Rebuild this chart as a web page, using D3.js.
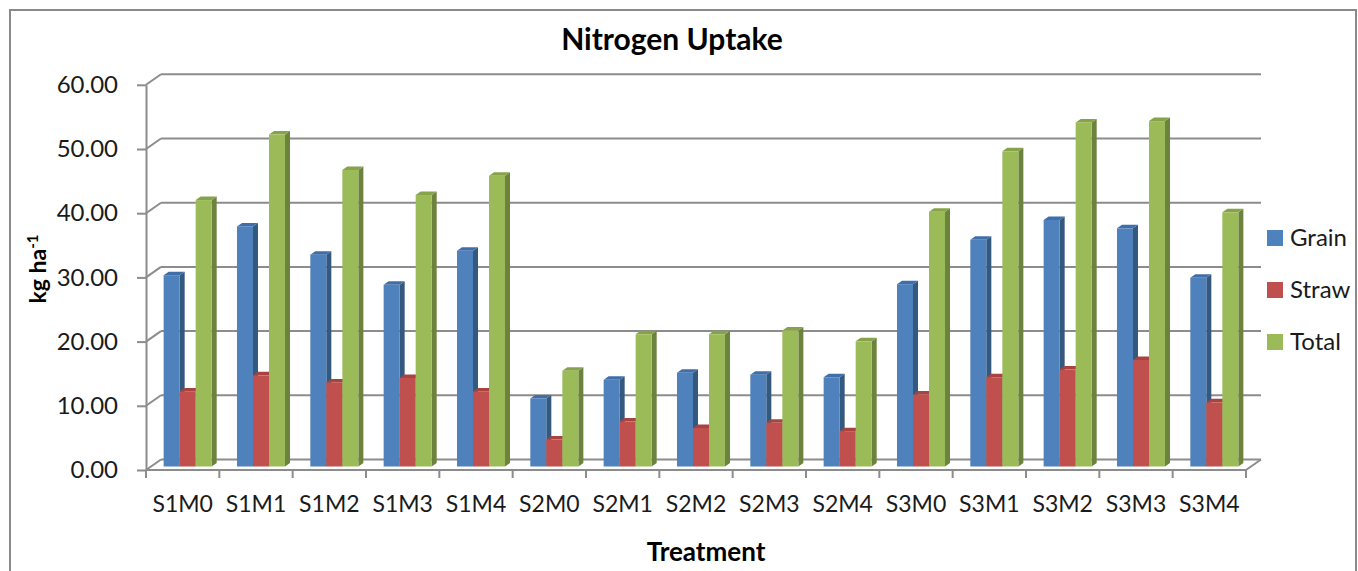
<!DOCTYPE html>
<html>
<head>
<meta charset="utf-8">
<script src="https://cdn.jsdelivr.net/npm/d3@7.9.0/dist/d3.min.js"></script>
<style>
  body { margin: 0; background: #fff; }
  svg { display: block; font-family: Lato, "Open Sans", sans-serif; }
</style>
</head>
<body>
<svg id="chart" width="1358" height="571"></svg>
<script>
// data
const categories = ['S1M0','S1M1','S1M2','S1M3','S1M4','S2M0','S2M1','S2M2','S2M3','S2M4','S3M0','S3M1','S3M2','S3M3','S3M4'];
const grain = [29.8, 37.4, 33.0, 28.3, 33.6, 10.6, 13.5, 14.6, 14.3, 13.9, 28.4, 35.3, 38.4, 37.1, 29.4];
const straw = [11.7, 14.2, 13.1, 13.8, 11.7, 4.2, 7.0, 6.0, 6.8, 5.5, 11.2, 13.9, 15.1, 16.6, 10.0];
const total = [41.5, 51.7, 46.2, 42.3, 45.3, 14.9, 20.6, 20.6, 21.2, 19.5, 39.7, 49.1, 53.6, 53.8, 39.6];
const seriesNames = ['Grain', 'Straw', 'Total'];
const yTicks = [0, 10, 20, 30, 40, 50, 60];

// colours: front, side, top
const colors = {
  Grain: ['#4f81bd', '#34597f', '#3f6ea8'],
  Straw: ['#c0504d', '#8c3835', '#a9433f'],
  Total: ['#9bbb59', '#6b833c', '#86a34a']
};

const svg = d3.select('#chart');

// outer frame
svg.append('rect')
  .attr('x', 10).attr('y', 10)
  .attr('width', 1346).attr('height', 600)
  .attr('fill', 'none')
  .attr('stroke', '#8a8a8a')
  .attr('stroke-width', 2);

// plot area (front plane) and depth offset for the 3D look
const left = 146, right = 1246, floorY = 470;
const depth = {dx: 15, dy: -10.5};

const x = d3.scaleBand().domain(categories).range([left, right]);
const xs = d3.scaleBand().domain(seriesNames).range([0, x.bandwidth()]).paddingOuter(0.79);
const y = d3.scaleLinear().domain([0, 60]).range([floorY, floorY - 6.42 * 60]);

const grid = svg.append('g');

// back wall gridlines + side wall diagonals
yTicks.forEach(t => {
  grid.append('line')
    .attr('x1', left + depth.dx).attr('x2', right + depth.dx)
    .attr('y1', y(t) + depth.dy).attr('y2', y(t) + depth.dy)
    .attr('stroke', '#8c8c8c').attr('stroke-width', 2);
  grid.append('line')
    .attr('x1', left).attr('x2', left + depth.dx)
    .attr('y1', y(t)).attr('y2', y(t) + depth.dy)
    .attr('stroke', '#8c8c8c').attr('stroke-width', 2);
});

// floor right edge
grid.append('line')
  .attr('x1', right).attr('x2', right + depth.dx)
  .attr('y1', floorY).attr('y2', floorY + depth.dy)
  .attr('stroke', '#8c8c8c').attr('stroke-width', 2);

// y axis
const yAxis = svg.append('g')
  .attr('transform', `translate(${left},0)`)
  .call(d3.axisLeft(y).tickValues(yTicks).tickFormat(d3.format('.2f')).tickSize(9).tickSizeOuter(0).tickPadding(19));
yAxis.select('.domain').attr('stroke', '#8c8c8c').attr('stroke-width', 2);
yAxis.selectAll('.tick line').attr('stroke', '#8c8c8c').attr('stroke-width', 2);
yAxis.selectAll('.tick text')
  .attr('font-family', 'Lato, sans-serif')
  .attr('font-size', 24)
  .attr('fill', '#1a1a1a');

// x axis: floor front line, boundary ticks, centred labels
svg.append('line')
  .attr('x1', left).attr('x2', right)
  .attr('y1', floorY).attr('y2', floorY)
  .attr('stroke', '#8c8c8c').attr('stroke-width', 2);

const bounds = categories.map(c => x(c)).concat([x.range()[1]]);
svg.append('g').selectAll('line')
  .data(bounds)
  .join('line')
  .attr('x1', d => d).attr('x2', d => d)
  .attr('y1', floorY).attr('y2', floorY + 8)
  .attr('stroke', '#8c8c8c').attr('stroke-width', 2);

const xAxis = svg.append('g')
  .attr('transform', `translate(0,${floorY})`)
  .call(d3.axisBottom(x).tickSize(0).tickPadding(26));
xAxis.select('.domain').remove();
xAxis.selectAll('.tick text')
  .attr('font-family', 'Lato, sans-serif')
  .attr('font-size', 23)
  .attr('fill', '#1a1a1a');

// bars
const barDepth = {dx: 5, dy: -3.5};
const barFront = {dx: 5, dy: -3.5};
const values = {Grain: grain, Straw: straw, Total: total};

const bars = svg.append('g');
categories.forEach((c, ci) => {
  seriesNames.forEach(s => {
    const v = values[s][ci];
    const x0 = x(c) + xs(s) + barFront.dx;
    const w = xs.bandwidth();
    const yb = y(0) + barFront.dy;
    const yt = y(v) + barFront.dy;
    const g = bars.append('g');
    // side face
    g.append('path')
      .attr('d', `M${x0 + w},${yt} L${x0 + w + barDepth.dx},${yt + barDepth.dy} L${x0 + w + barDepth.dx},${yb + barDepth.dy} L${x0 + w},${yb} Z`)
      .attr('fill', colors[s][1]);
    // top face
    g.append('path')
      .attr('d', `M${x0},${yt} L${x0 + w},${yt} L${x0 + w + barDepth.dx},${yt + barDepth.dy} L${x0 + barDepth.dx},${yt + barDepth.dy} Z`)
      .attr('fill', colors[s][2]);
    // front face
    g.append('rect')
      .attr('x', x0).attr('y', yt)
      .attr('width', w).attr('height', yb - yt)
      .attr('fill', colors[s][0]);
  });
});

// title
svg.append('text')
  .attr('x', 672).attr('y', 50)
  .attr('text-anchor', 'middle')
  .attr('font-family', 'Lato, sans-serif')
  .attr('font-weight', 'bold')
  .attr('font-size', 30)
  .attr('fill', '#000')
  .text('Nitrogen Uptake');

// y title
const yt = svg.append('text')
  .attr('transform', 'translate(46,269) rotate(-90)')
  .attr('text-anchor', 'middle')
  .attr('font-family', 'Lato, sans-serif')
  .attr('font-weight', 'bold')
  .attr('font-size', 23)
  .attr('fill', '#000');
yt.append('tspan').text('kg ha');
yt.append('tspan').attr('font-size', 15).attr('dy', -8).text('-1');

// x title
svg.append('text')
  .attr('x', 706).attr('y', 561)
  .attr('text-anchor', 'middle')
  .attr('font-family', 'Lato, sans-serif')
  .attr('font-weight', 'bold')
  .attr('font-size', 26)
  .attr('fill', '#000')
  .text('Treatment');

// legend
const legend = svg.append('g');
seriesNames.forEach((s, i) => {
  const cy = 238 + i * 52;
  legend.append('rect')
    .attr('x', 1267).attr('y', cy - 8)
    .attr('width', 16).attr('height', 16)
    .attr('fill', colors[s][0]);
  legend.append('text')
    .attr('x', 1290).attr('y', cy + 8)
    .attr('font-family', 'Lato, sans-serif')
    .attr('font-size', 24)
    .attr('fill', '#1a1a1a')
    .text(s);
});
</script>
</body>
</html>
